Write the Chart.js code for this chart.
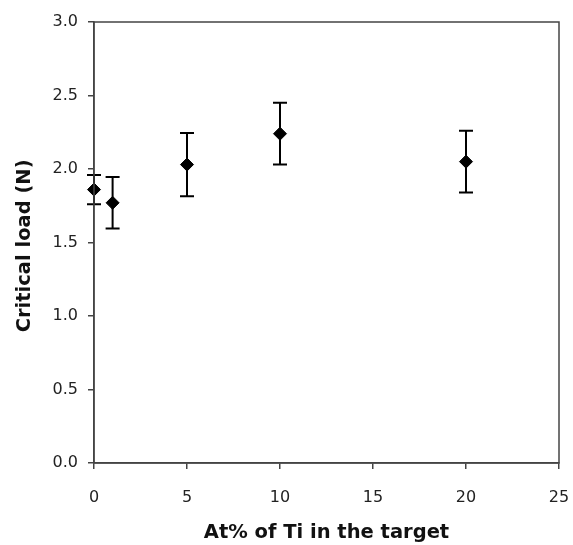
<!DOCTYPE html>
<html>
<head>
<meta charset="utf-8">
<script src="https://cdn.jsdelivr.net/npm/chart.js@4/dist/chart.umd.min.js"></script>
<style>
  html, body { margin: 0; padding: 0; background: #fff; }
  canvas { display: block; }
</style>
</head>
<body>
<canvas id="c" width="573" height="545"></canvas>
<script>
// at% Ti in target vs critical load (N), with error bars
const tiPercent = [0, 1, 5, 10, 20];
const criticalLoad = [1.86, 1.77, 2.03, 2.24, 2.05];
const loadError = [0.10, 0.175, 0.215, 0.21, 0.21];

const xTicks = [0, 5, 10, 15, 20, 25];
const yTicks = [0, 0.5, 1.0, 1.5, 2.0, 2.5, 3.0];

const FONT = '"DejaVu Sans", Verdana, sans-serif';
const AXIS = '#444';

// error bars drawn under the diamonds, through the chart's own scales
const errorBars = {
  id: 'errorBars',
  beforeDatasetsDraw(chart) {
    const { ctx, scales: { x, y } } = chart;
    ctx.save();
    ctx.strokeStyle = '#000';
    ctx.lineWidth = 2;
    tiPercent.forEach((t, i) => {
      const px = x.getPixelForValue(t);
      const top = y.getPixelForValue(criticalLoad[i] + loadError[i]);
      const bot = y.getPixelForValue(criticalLoad[i] - loadError[i]);
      ctx.beginPath();
      ctx.moveTo(px, top); ctx.lineTo(px, bot);
      ctx.moveTo(px - 7, top); ctx.lineTo(px + 7, top);
      ctx.moveTo(px - 7, bot); ctx.lineTo(px + 7, bot);
      ctx.stroke();
    });
    ctx.restore();
  }
};

// box round the plot area
const frame = {
  id: 'frame',
  afterDraw(chart) {
    const { ctx, chartArea: a } = chart;
    ctx.save();
    ctx.strokeStyle = AXIS;
    ctx.lineWidth = 1.5;
    ctx.strokeRect(a.left, a.top, a.right - a.left, a.bottom - a.top);
    ctx.restore();
  }
};

new Chart(document.getElementById('c'), {
  type: 'scatter',
  data: {
    datasets: [{
      label: 'Critical load',
      data: tiPercent.map((t, i) => ({ x: t, y: criticalLoad[i] })),
      pointStyle: 'rectRot',
      pointRadius: 6.5,
      pointHoverRadius: 6.5,
      backgroundColor: '#000',
      borderColor: '#000',
      borderWidth: 1,
      clip: false
    }]
  },
  options: {
    responsive: false,
    animation: false,
    events: [],
    layout: { padding: { top: 22, right: 14, left: 0, bottom: 0 } },
    plugins: { legend: { display: false }, tooltip: { enabled: false } },
    scales: {
      x: {
        type: 'linear',
        min: 0, max: 25,
        afterBuildTicks: s => { s.ticks = xTicks.map(v => ({ value: v })); },
        afterFit: s => { s.height = 82; s.paddingLeft = 0; s.paddingRight = 0; },
        grid: { drawOnChartArea: false, drawTicks: true, tickLength: 6, color: AXIS, lineWidth: 1.5 },
        border: { color: AXIS, width: 1.5 },
        ticks: { color: '#222', font: { family: FONT, size: 16 }, padding: 19, maxRotation: 0 },
        title: { display: true, text: 'At% of Ti in the target', color: '#111',
                 font: { family: FONT, size: 19.5, weight: 'bold' }, padding: { top: 0, bottom: 0 } }
      },
      y: {
        type: 'linear',
        min: 0, max: 3,
        afterBuildTicks: s => { s.ticks = yTicks.map(v => ({ value: v })); },
        afterFit: s => { s.width = 94; s.paddingTop = 0; s.paddingBottom = 0; },
        grid: { drawOnChartArea: false, drawTicks: true, tickLength: 6, color: AXIS, lineWidth: 1.5 },
        border: { color: AXIS, width: 1.5 },
        ticks: { color: '#222', font: { family: FONT, size: 16 }, padding: 10,
                 callback: v => Number(v).toFixed(1) },
        title: { display: true, text: 'Critical load (N) ', color: '#111',
                 font: { family: FONT, size: 19.5, weight: 'bold' }, padding: { top: 13, bottom: 0 } }
      }
    }
  },
  plugins: [errorBars, frame]
});
</script>
</body>
</html>
